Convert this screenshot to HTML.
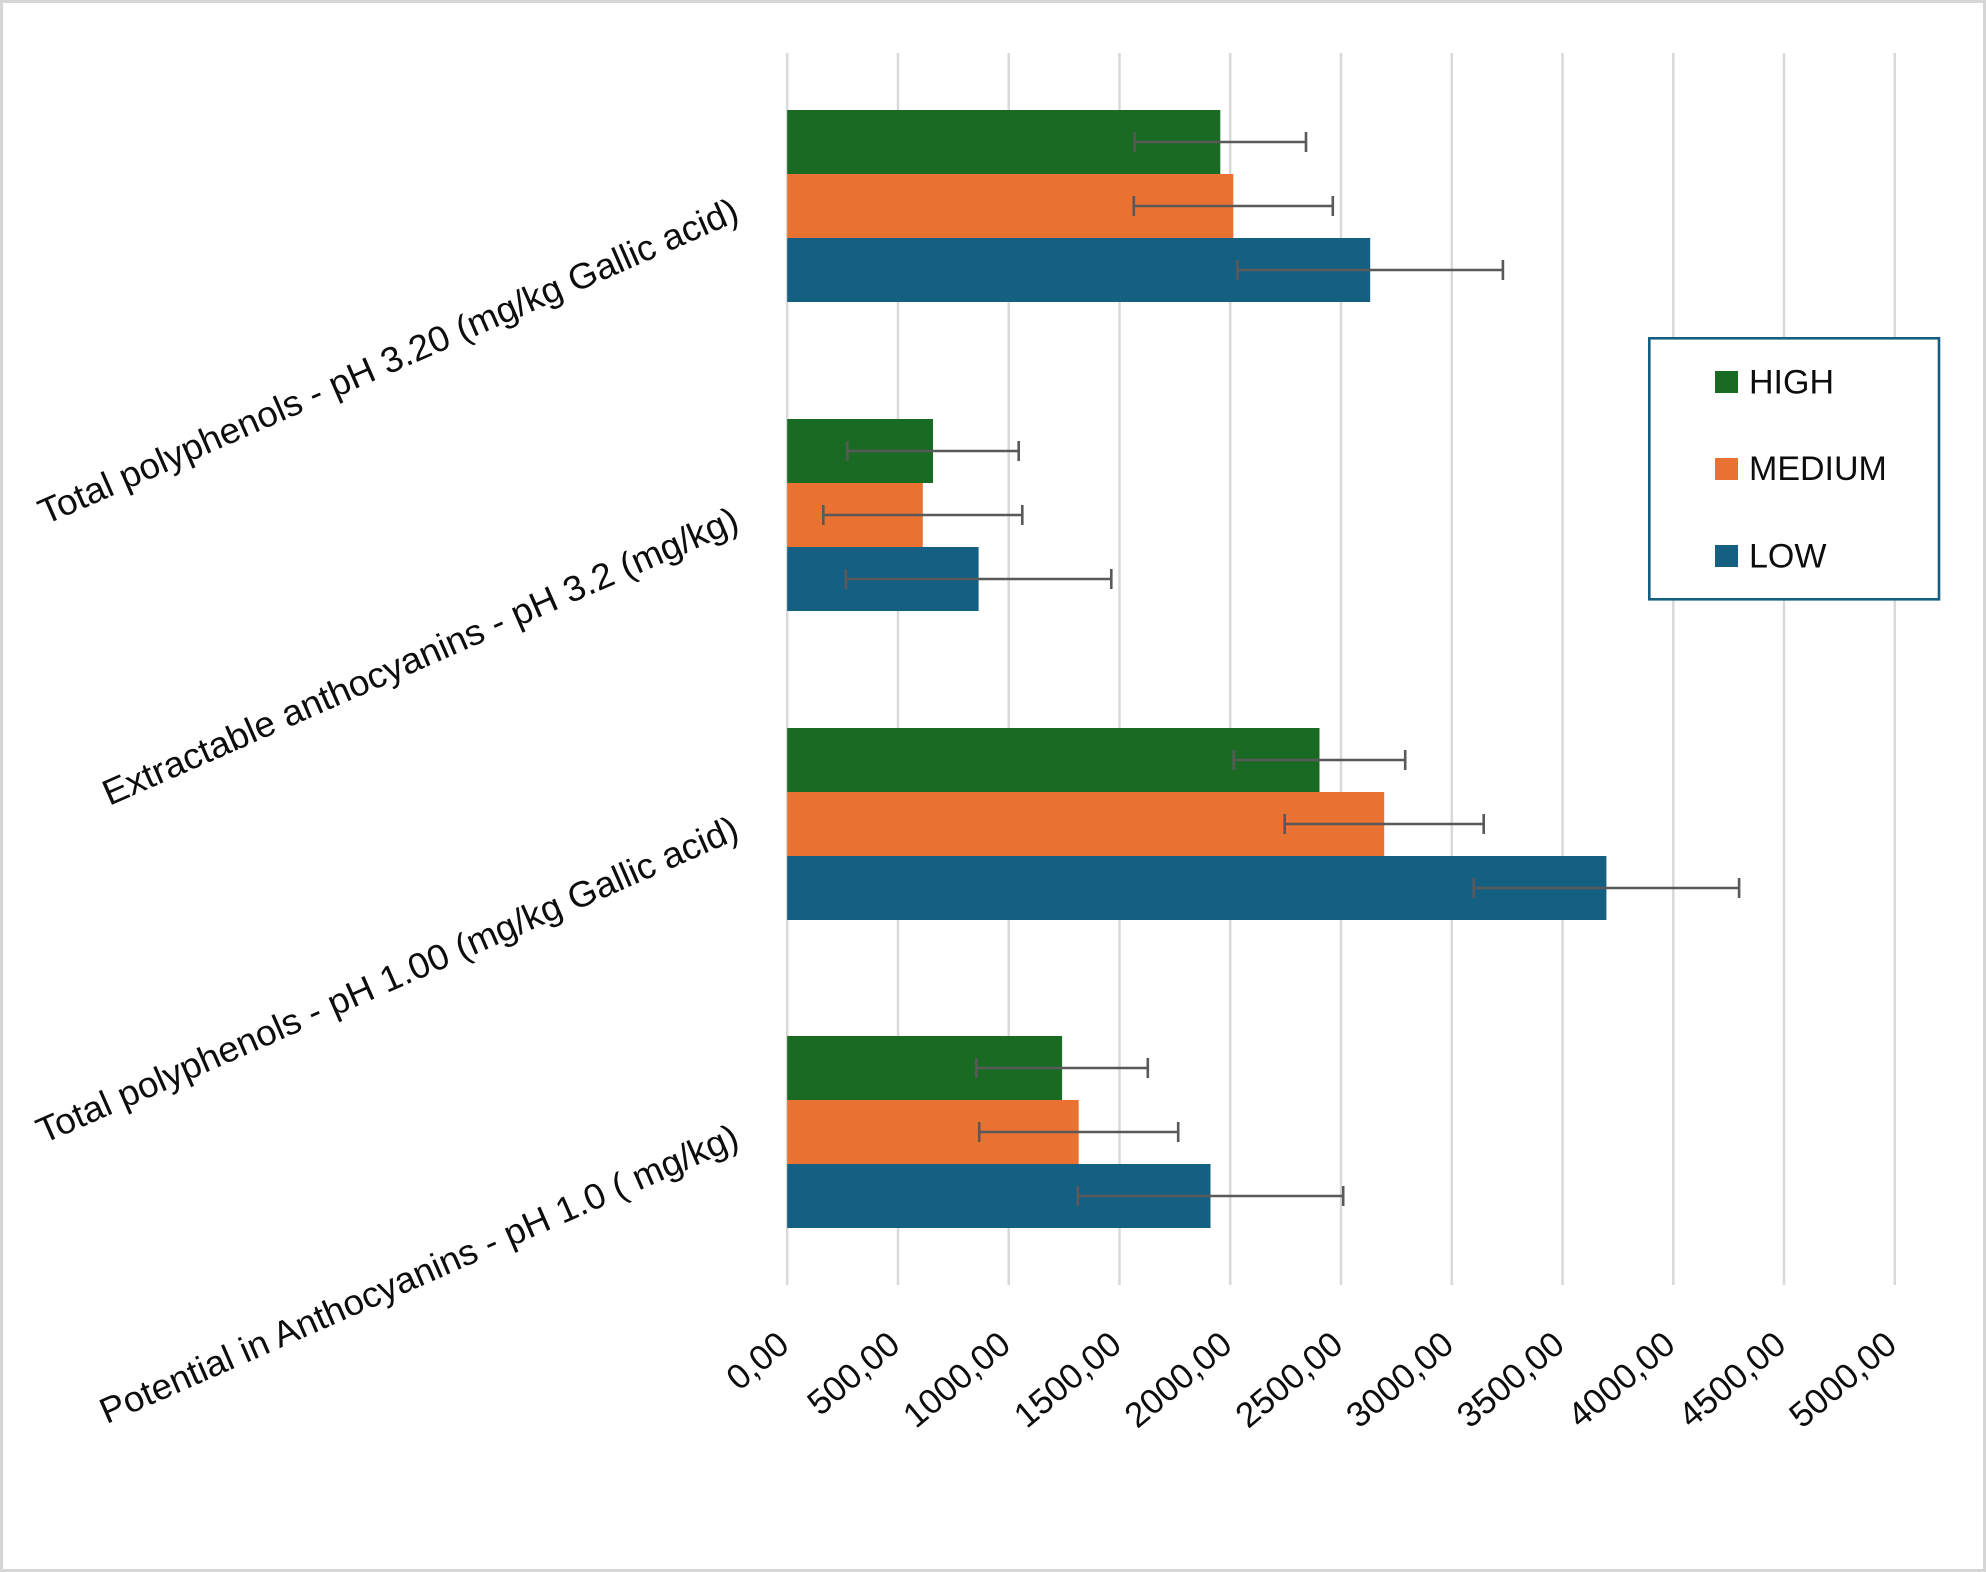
<!DOCTYPE html>
<html>
<head>
<meta charset="utf-8">
<style>
  html, body { margin:0; padding:0; background:#ffffff; }
  svg { display:block; }
  text { font-family: "Liberation Sans", "DejaVu Sans", sans-serif; fill:#0d0d0d; }
</style>
</head>
<body>
<svg width="1986" height="1572" viewBox="0 0 1986 1572" xmlns="http://www.w3.org/2000/svg">
  <rect x="0" y="0" width="1986" height="1572" fill="#ffffff"/>
  <rect x="1.5" y="1.5" width="1983" height="1569" fill="none" stroke="#d6d6d6" stroke-width="3"/>

  <!-- gridlines -->
  <g stroke="#d9d9d9" stroke-width="2.5">
    <line x1="787.2" y1="53" x2="787.2" y2="1285"/>
    <line x1="898.0" y1="53" x2="898.0" y2="1285"/>
    <line x1="1008.7" y1="53" x2="1008.7" y2="1285"/>
    <line x1="1119.5" y1="53" x2="1119.5" y2="1285"/>
    <line x1="1230.2" y1="53" x2="1230.2" y2="1285"/>
    <line x1="1341.0" y1="53" x2="1341.0" y2="1285"/>
    <line x1="1451.8" y1="53" x2="1451.8" y2="1285"/>
    <line x1="1562.5" y1="53" x2="1562.5" y2="1285"/>
    <line x1="1673.3" y1="53" x2="1673.3" y2="1285"/>
    <line x1="1784.0" y1="53" x2="1784.0" y2="1285"/>
    <line x1="1894.8" y1="53" x2="1894.8" y2="1285"/>
  </g>

  <!-- bars: group centers 206, 515, 824, 1132 -->
  <g>
    <!-- Group 1 -->
    <rect x="787.2" y="110" width="433.1" height="64" fill="#196B24"/>
    <rect x="787.2" y="174" width="446.1" height="64" fill="#E97132"/>
    <rect x="787.2" y="238" width="583.0" height="64" fill="#156082"/>
    <!-- Group 2 -->
    <rect x="787.2" y="419" width="145.8" height="64" fill="#196B24"/>
    <rect x="787.2" y="483" width="135.6" height="64" fill="#E97132"/>
    <rect x="787.2" y="547" width="191.4" height="64" fill="#156082"/>
    <!-- Group 3 -->
    <rect x="787.2" y="728" width="532.3" height="64" fill="#196B24"/>
    <rect x="787.2" y="792" width="597.0" height="64" fill="#E97132"/>
    <rect x="787.2" y="856" width="819.2" height="64" fill="#156082"/>
    <!-- Group 4 -->
    <rect x="787.2" y="1036" width="274.9" height="64" fill="#196B24"/>
    <rect x="787.2" y="1100" width="291.5" height="64" fill="#E97132"/>
    <rect x="787.2" y="1164" width="423.3" height="64" fill="#156082"/>
  </g>

  <!-- error bars -->
  <g stroke="#595959" stroke-width="2.6" fill="none">
    <!-- G1 -->
    <path d="M1134.6 142 H1306.0 M1134.6 132 V152 M1306.0 132 V152"/>
    <path d="M1133.8 206 H1332.8 M1133.8 196 V216 M1332.8 196 V216"/>
    <path d="M1237.5 270 H1502.9 M1237.5 260 V280 M1502.9 260 V280"/>
    <!-- G2 -->
    <path d="M847.3 451 H1018.7 M847.3 441 V461 M1018.7 441 V461"/>
    <path d="M823.3 515 H1022.3 M823.3 505 V525 M1022.3 505 V525"/>
    <path d="M845.9 579 H1111.3 M845.9 569 V589 M1111.3 569 V589"/>
    <!-- G3 -->
    <path d="M1233.8 760 H1405.2 M1233.8 750 V770 M1405.2 750 V770"/>
    <path d="M1284.7 824 H1483.7 M1284.7 814 V834 M1483.7 814 V834"/>
    <path d="M1473.7 888 H1739.1 M1473.7 878 V898 M1739.1 878 V898"/>
    <!-- G4 -->
    <path d="M976.4 1068 H1147.8 M976.4 1058 V1078 M1147.8 1058 V1078"/>
    <path d="M979.2 1132 H1178.2 M979.2 1122 V1142 M1178.2 1122 V1142"/>
    <path d="M1077.8 1196 H1343.2 M1077.8 1186 V1206 M1343.2 1186 V1206"/>
  </g>

  <!-- x tick labels -->
  <g font-size="35" text-anchor="end">
    <text transform="translate(791.2,1348) rotate(-40)">0,00</text>
    <text transform="translate(902.0,1348) rotate(-40)">500,00</text>
    <text transform="translate(1012.7,1348) rotate(-40)">1000,00</text>
    <text transform="translate(1123.5,1348) rotate(-40)">1500,00</text>
    <text transform="translate(1234.2,1348) rotate(-40)">2000,00</text>
    <text transform="translate(1345.0,1348) rotate(-40)">2500,00</text>
    <text transform="translate(1455.8,1348) rotate(-40)">3000,00</text>
    <text transform="translate(1566.5,1348) rotate(-40)">3500,00</text>
    <text transform="translate(1677.3,1348) rotate(-40)">4000,00</text>
    <text transform="translate(1788.0,1348) rotate(-40)">4500,00</text>
    <text transform="translate(1898.8,1348) rotate(-40)">5000,00</text>
  </g>

  <!-- category labels -->
  <g font-size="36">
    <text transform="translate(741,219.7) rotate(-23.7)" x="-760" y="0" textLength="760" lengthAdjust="spacingAndGlyphs">Total polyphenols - pH 3.20 (mg/kg Gallic acid)</text>
    <text transform="translate(741,528.7) rotate(-23.7)" x="-690" y="0" textLength="690" lengthAdjust="spacingAndGlyphs">Extractable anthocyanins - pH 3.2 (mg/kg)</text>
    <text transform="translate(741,837.7) rotate(-23.7)" x="-762" y="0" textLength="762" lengthAdjust="spacingAndGlyphs">Total polyphenols - pH 1.00 (mg/kg Gallic acid)</text>
    <text transform="translate(741,1145.7) rotate(-23.7)" x="-693" y="0" textLength="693" lengthAdjust="spacingAndGlyphs">Potential in Anthocyanins - pH 1.0 ( mg/kg)</text>
  </g>

  <!-- legend -->
  <rect x="1649.3" y="338.3" width="289.7" height="261" fill="#ffffff" stroke="#156082" stroke-width="2.6"/>
  <rect x="1715" y="371" width="23" height="22" fill="#196B24"/>
  <rect x="1715" y="458" width="23" height="22" fill="#E97132"/>
  <rect x="1715" y="545" width="23" height="22" fill="#156082"/>
  <g font-size="34">
    <text x="1749" y="393.5">HIGH</text>
    <text x="1749" y="480">MEDIUM</text>
    <text x="1749" y="567.5">LOW</text>
  </g>
</svg>
</body>
</html>
